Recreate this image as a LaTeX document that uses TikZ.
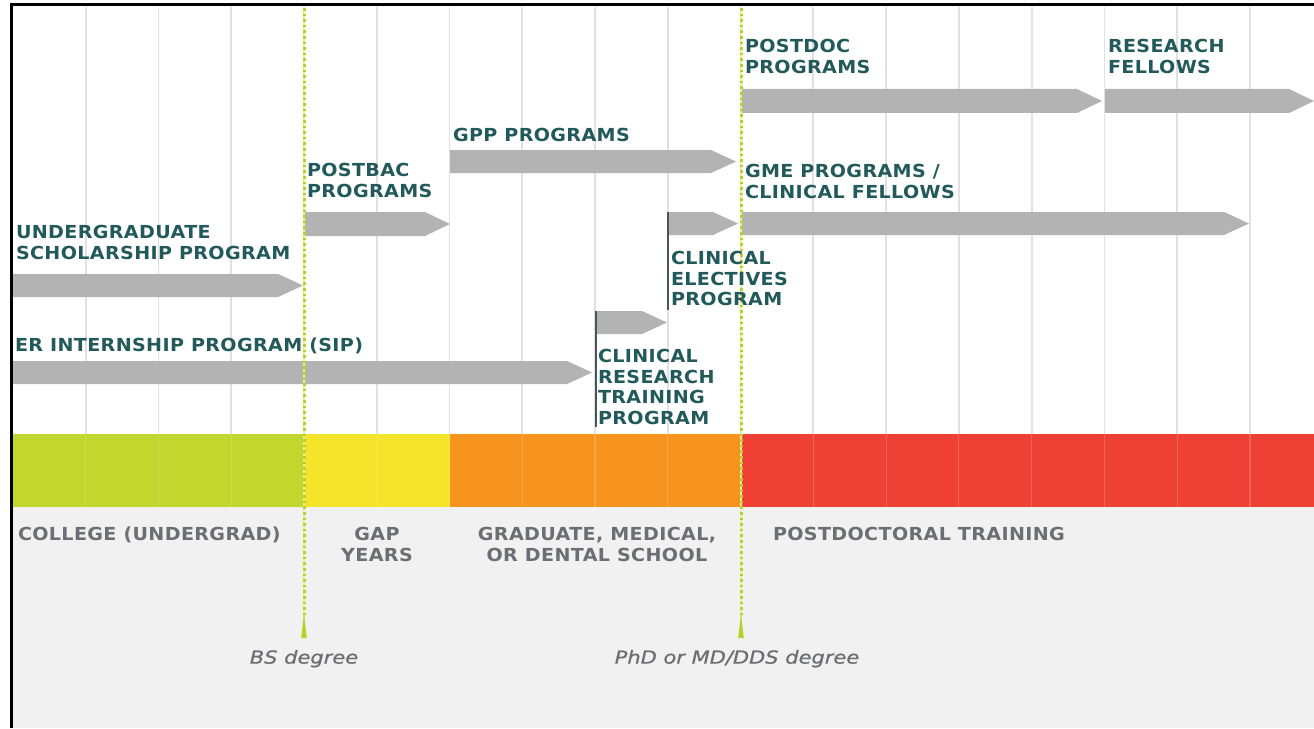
\documentclass[tikz,border=0pt]{standalone}
\usepackage{fontspec}
\newfontfamily\labfont[FakeStretch=1.065,LetterSpace=2]{DejaVu Sans}
\newfontfamily\degfont[FakeStretch=1.17,FakeBold=0.8]{DejaVu Sans}
\definecolor{tealtxt}{HTML}{22595A}
\definecolor{graytxt}{HTML}{6D6E71}
\definecolor{arrowgray}{HTML}{B3B3B3}
\definecolor{gridgray}{HTML}{E1E1E1}
\definecolor{barlime}{HTML}{C1D72E}
\definecolor{baryellow}{HTML}{F4E52B}
\definecolor{barorange}{HTML}{F7941D}
\definecolor{barred}{HTML}{EE4035}
\definecolor{bottomgray}{HTML}{F1F1F1}
\definecolor{dotgreen}{HTML}{B8D02A}
\definecolor{dotlight}{HTML}{E8F09A}
\definecolor{markline}{HTML}{4A5556}
\begin{document}
\begin{tikzpicture}[x=1bp,y=-1bp,
  lab/.style={anchor=north west, inner sep=0pt, outer sep=0pt, text=tealtxt, align=left,
    font=\labfont\bfseries\fontsize{18}{20.8}\selectfont},
  blab/.style={inner sep=0pt, outer sep=0pt, text=graytxt, align=center,
    font=\labfont\bfseries\fontsize{18}{21}\selectfont},
  deg/.style={anchor=north, inner sep=0pt, outer sep=0pt, text=graytxt,
    font=\degfont\itshape\fontsize{18}{21}\selectfont},
  gridline/.style={draw=gridgray, line width=1.8bp},
  degbase/.style={draw=dotlight, line width=2bp},
  degline/.style={draw=dotgreen, line width=3bp, dash pattern=on 2.6bp off 3bp},
  marker/.style={draw=markline, line width=1.5bp}
]
\useasboundingbox (0,0) rectangle (1314,728);
\fill[white] (0,0) rectangle (1314,728);
% bottom area
\fill[bottomgray] (11,507) rectangle (1314,728);
% grid
\foreach \k in {1,...,17} {
  \draw[gridline] ({13+72.76*\k},7) -- ({13+72.76*\k},434);
}
% colour bar
\fill[barlime] (11,434) rectangle (304,507);
\fill[baryellow] (304,434) rectangle (450,507);
\fill[barorange] (450,434) rectangle (741,507);
\fill[barred] (741,434) rectangle (1314,507);
\foreach \k in {1,...,17} {
  \draw[white, opacity=0.18, line width=1.2bp] ({13+72.76*\k},434) -- ({13+72.76*\k},507);
}
% arrows: x1, tip, top, bottom
\newcommand{\pgar}[4]{\fill[arrowgray] (#1,#3) -- ({#2-25},#3) -- (#2,{(#3+#4)/2}) -- ({#2-25},#4) -- (#1,#4) -- cycle;}
\pgar{12}{303}{274}{297}
\pgar{304}{450}{212}{236}
\pgar{450}{736}{150}{173}
\pgar{741}{1102}{89}{113}
\pgar{1105}{1314}{89}{113}
\pgar{741}{1249}{212}{235}
\pgar{668}{738}{212}{235}
\pgar{596}{667}{311}{334}
\pgar{12}{592}{361}{384}
% marker lines
\draw[marker] (668,212) -- (668,310);
\draw[marker] (596,311) -- (596,427);
% degree lines
\foreach \dx in {304,741} {
  \draw[degbase] (\dx,8) -- (\dx,618);
  \draw[degline] (\dx,8) -- (\dx,618);
  \fill[dotgreen] ({\dx-2.8},638) -- (\dx,613) -- ({\dx+2.8},638) -- cycle;
}
% frame
\draw[black, line width=3bp] (11,728) -- (11,5) -- (1314,5);
% labels
\node[lab] (usp) at (16,225) {UNDERGRADUATE\\SCHOLARSHIP PROGRAM};
\node[lab] (pbac) at (307,163) {POSTBAC\\PROGRAMS};
\node[lab] (gpp) at (453,128) {GPP PROGRAMS};
\node[lab] (pdoc) at (745,39) {POSTDOC\\PROGRAMS};
\node[lab] (rfel) at (1108,39) {RESEARCH\\FELLOWS};
\node[lab] (gme) at (745,164) {GME PROGRAMS /\\CLINICAL FELLOWS};
\node[lab] (cep) at (671,251) {CLINICAL\\ELECTIVES\\PROGRAM};
\node[lab] (crtp) at (598,349) {CLINICAL\\RESEARCH\\TRAINING\\PROGRAM};
\node[lab] (sip) at (15,338) {ER INTERNSHIP PROGRAM (SIP)};
% stage labels
\node[blab, anchor=north west] (col) at (18,527) {COLLEGE (UNDERGRAD)};
\node[blab, anchor=north] (gap) at (377,527) {GAP\\YEARS};
\node[blab, anchor=north] (grad) at (597,527) {GRADUATE, MEDICAL,\\OR DENTAL SCHOOL};
\node[blab, anchor=north west] (post) at (773,527) {POSTDOCTORAL TRAINING};
\node[deg] (bs) at (304,650) {BS degree};
\node[deg] (phd) at (737,650) {PhD or MD/DDS degree};
\end{tikzpicture}
\end{document}
